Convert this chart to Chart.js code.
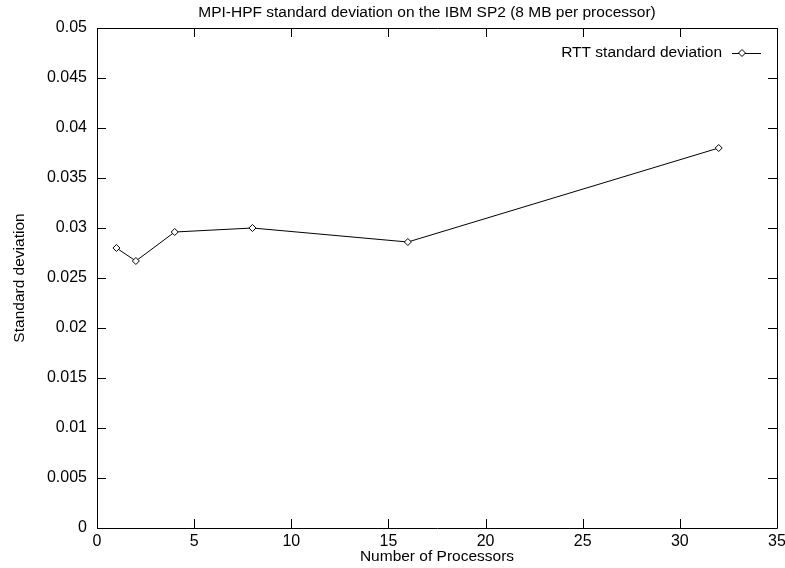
<!DOCTYPE html>
<html>
<head>
<meta charset="utf-8">
<script src="https://cdn.jsdelivr.net/npm/chart.js@4"></script>
<style>
  html, body { margin: 0; padding: 0; background: #fff; }
  #wrap { width: 785px; height: 568px; }
</style>
</head>
<body>
<div id="wrap"><canvas id="chart" width="785" height="568"></canvas></div>
<script>
const processors = [1, 2, 4, 8, 16, 32];
const rttStdDev = [0.0280, 0.0267, 0.0296, 0.0300, 0.0286, 0.0380];
const xTicks = [0, 5, 10, 15, 20, 25, 30, 35];
const yTicks = [0, 0.005, 0.01, 0.015, 0.02, 0.025, 0.03, 0.035, 0.04, 0.045, 0.05];
const chartTitle = 'MPI-HPF standard deviation on the IBM SP2 (8 MB per processor)';
const xTitle = 'Number of Processors';

const FONT = 'Liberation Sans, Arial, Helvetica, sans-serif';
const TEXT = 15.5;

// gnuplot-style frame with inward ticks on all four sides, titles and key
const framePlugin = {
    id: 'frame',
    afterDraw(chart) {
        const ctx = chart.ctx;
        const a = chart.chartArea;
        const xs = chart.scales.x, ys = chart.scales.y;
        const len = 9;
        ctx.save();
        ctx.strokeStyle = '#000';
        ctx.lineWidth = 1;
        ctx.beginPath();
        ctx.rect(Math.round(a.left) + 0.5, Math.round(a.top) + 0.5, Math.round(a.right - a.left), Math.round(a.bottom - a.top));
        xTicks.forEach(v => {
            const px = Math.round(xs.getPixelForValue(v)) + 0.5;
            ctx.moveTo(px, a.bottom); ctx.lineTo(px, a.bottom - len);
            ctx.moveTo(px, a.top); ctx.lineTo(px, a.top + len);
        });
        yTicks.forEach(v => {
            const py = Math.round(ys.getPixelForValue(v)) + 0.5;
            ctx.moveTo(a.left, py); ctx.lineTo(a.left + len, py);
            ctx.moveTo(a.right, py); ctx.lineTo(a.right - len, py);
        });
        ctx.stroke();

        ctx.font = TEXT + 'px ' + FONT;
        ctx.fillStyle = '#000';
        ctx.textBaseline = 'middle';
        ctx.textAlign = 'center';
        ctx.fillText(chartTitle, (a.left + a.right) / 2 - 10, 13);
        ctx.fillText(xTitle, (a.left + a.right) / 2, 557);

        // key in the top right corner: text then sample line
        const ds = chart.data.datasets[0];
        const ky = a.top + 25;
        ctx.textAlign = 'right';
        ctx.fillText(ds.label, a.right - 55, ky);
        ctx.beginPath();
        ctx.moveTo(a.right - 45, ky + 0.5);
        ctx.lineTo(a.right - 16, ky + 0.5);
        ctx.stroke();
        const cx = a.right - 35;
        ctx.beginPath();
        ctx.moveTo(cx, ky - 3.5); ctx.lineTo(cx + 3.5, ky); ctx.lineTo(cx, ky + 3.5); ctx.lineTo(cx - 3.5, ky); ctx.closePath();
        ctx.fillStyle = '#fff';
        ctx.fill();
        ctx.stroke();
        ctx.restore();
    }
};

new Chart(document.getElementById('chart'), {
    type: 'line',
    data: {
        datasets: [{
            label: 'RTT standard deviation',
            data: processors.map((p, i) => ({x: p, y: rttStdDev[i]})),
            borderColor: '#000',
            borderWidth: 1,
            pointStyle: 'rectRot',
            pointRadius: 3.5,
            pointBackgroundColor: '#fff',
            pointBorderColor: '#000',
            pointBorderWidth: 1,
            tension: 0
        }]
    },
    options: {
        responsive: false,
        animation: false,
        layout: { padding: { left: 0, right: 8, top: 28, bottom: 0 } },
        plugins: {
            legend: { display: false },
            tooltip: { enabled: false },
            title: { display: false }
        },
        scales: {
            x: {
                type: 'linear',
                min: 0, max: 35,
                afterBuildTicks: s => { s.ticks = xTicks.map(v => ({value: v})); },
                afterFit: s => { s.height = 40; s.paddingRight = 0; },
                grid: { display: false, drawTicks: false },
                border: { display: false },
                ticks: { color: '#000', padding: 4, maxRotation: 0, font: { family: FONT, size: 16 } }
            },
            y: {
                min: 0, max: 0.05,
                afterBuildTicks: s => { s.ticks = yTicks.map(v => ({value: v})); },
                afterFit: s => { s.width = 97; },
                grid: { display: false, drawTicks: false },
                border: { display: false },
                ticks: {
                    color: '#000', padding: 10, font: { family: FONT, size: 16 },
                    callback: v => String(parseFloat(v.toFixed(3)))
                },
                title: {
                    display: true, text: 'Standard deviation', color: '#000',
                    font: { family: FONT, size: TEXT }, padding: { top: 10, bottom: 0 }
                }
            }
        }
    },
    plugins: [framePlugin]
});
</script>
</body>
</html>
